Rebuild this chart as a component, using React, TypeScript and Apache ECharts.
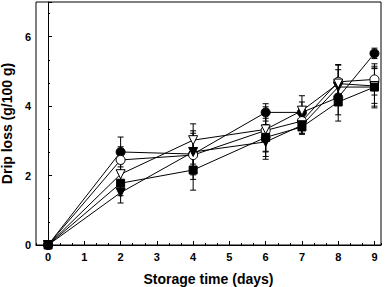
import React, { useEffect, useRef } from "react";
import * as echarts from "echarts";

const days = [0, 2, 4, 6, 7, 8, 9];
const xTickValues = [0, 1, 2, 3, 4, 5, 6, 7, 8, 9];
const yTickLabels = ["0", "2", "4", "6"];

const filledCircle = [0, 2.68, 2.62, 3.82, 3.82, 4.25, 5.52];
const openCircle = [0, 2.45, 2.59, 3.3, 3.57, 4.7, 4.77];
const filledTriangle = [0, 1.51, 2.68, 2.97, 3.45, 4.55, 4.55];
const openTriangle = [0, 2.04, 3.02, 3.33, 3.87, 4.65, 4.58];
const filledSquare = [0, 1.78, 2.16, 3.1, 3.4, 4.12, 4.55];

const filledCircleErr = [0, 0.43, 0.6, 0.25, 0.3, 0.5, 0.15];
const openCircleErr = [0, 0.38, 0.7, 0.6, 0.35, 0.48, 0.45];
const filledTriangleErr = [0, 0.3, 0.35, 0.5, 0.26, 0.5, 0.55];
const openTriangleErr = [0, 0.3, 0.47, 0.65, 0.43, 0.55, 0.5];
const filledSquareErr = [0, 0.36, 0.58, 0.55, 0.2, 0.55, 0.6];

const FONT = "Liberation Sans, Arial, sans-serif";
const X_MIN = -1 / 3;
const X_MAX = 9.18;
const Y_MIN = 0;
const Y_MAX = 7;

export default function App() {
  const ref = useRef<HTMLDivElement>(null);
  useEffect(() => {
    if (!ref.current) return;
    const chart = echarts.init(ref.current, undefined, { renderer: "svg" });

    const groups = [
      { name: "fc", vals: filledCircle, err: filledCircleErr, symbol: "circle", rot: 0, fill: "#000", size: 9 },
      { name: "oc", vals: openCircle, err: openCircleErr, symbol: "circle", rot: 0, fill: "#fff", size: 9 },
      { name: "ft", vals: filledTriangle, err: filledTriangleErr, symbol: "triangle", rot: 180, fill: "#000", size: 9 },
      { name: "ot", vals: openTriangle, err: openTriangleErr, symbol: "triangle", rot: 180, fill: "#fff", size: 9 },
      { name: "fs", vals: filledSquare, err: filledSquareErr, symbol: "rect", rot: 0, fill: "#000", size: 8 },
    ];

    const errSeries = groups.map((g) => ({
      type: "custom",
      name: g.name + "_err",
      xAxisIndex: 0,
      yAxisIndex: 0,
      z: 1,
      silent: true,
      data: days.map((d, i) => [d, g.vals[i] - g.err[i], g.vals[i] + g.err[i]]),
      encode: { x: 0, y: [1, 2] },
      renderItem: (params: any, api: any) => {
        const x = api.value(0);
        const lo = api.coord([x, api.value(1)]);
        const hi = api.coord([x, api.value(2)]);
        const c = 3;
        const style = { stroke: "#000", lineWidth: 1 };
        return {
          type: "group",
          children: [
            { type: "line", shape: { x1: lo[0], y1: lo[1], x2: hi[0], y2: hi[1] }, style },
            { type: "line", shape: { x1: lo[0] - c, y1: lo[1], x2: lo[0] + c, y2: lo[1] }, style },
            { type: "line", shape: { x1: hi[0] - c, y1: hi[1], x2: hi[0] + c, y2: hi[1] }, style },
          ],
        };
      },
    }));

    const lineSeries = groups.map((g) => ({
      type: "line",
      name: g.name,
      xAxisIndex: 0,
      yAxisIndex: 0,
      z: 3,
      data: days.map((d, i) => [d, g.vals[i]]),
      symbol: g.symbol,
      symbolSize: g.size,
      symbolRotate: g.rot,
      showAllSymbol: true,
      lineStyle: { color: "#000", width: 1 },
      itemStyle: { color: g.fill, borderColor: "#000", borderWidth: 1 },
    }));

    const labelStyle = { fontFamily: FONT, fontWeight: "bold", fontSize: 11, color: "#000" };
    const nameStyle = { fontFamily: FONT, fontWeight: "bold", fontSize: 14, color: "#000" };

    chart.setOption({
      animation: false,
      backgroundColor: "#fff",
      grid: {
        left: 36,
        right: 6,
        top: 2,
        bottom: 42,
        containLabel: false,
        outerBoundsMode: "none",
        show: true,
        borderColor: "#000",
        borderWidth: 1,
      },
      xAxis: [
        {
          type: "value",
          min: X_MIN,
          max: X_MAX,
          interval: 1 / 3,
          position: "bottom",
          name: "Storage time (days)",
          nameLocation: "middle",
          nameGap: 27,
          nameTextStyle: nameStyle,
          axisLine: { show: true, lineStyle: { color: "#000", width: 1 } },
          axisTick: { show: true, inside: true, length: 4, customValues: xTickValues, lineStyle: { color: "#000" } },
          splitLine: { show: false },
          axisLabel: { ...labelStyle, margin: 6, customValues: xTickValues, formatter: (v: number) => String(Math.round(v)) },
        },
        {
          type: "value",
          min: X_MIN,
          max: X_MAX,
          interval: 1 / 3,
          position: "bottom",
          axisLine: { show: false },
          axisTick: { show: true, inside: true, length: 2, lineStyle: { color: "#000" } },
          axisLabel: { show: false },
          splitLine: { show: false },
        },
      ],
      yAxis: [
        {
          type: "value",
          min: Y_MIN,
          max: Y_MAX,
          interval: 2,
          position: "left",
          name: "Drip loss (g/100 g)",
          nameLocation: "middle",
          nameGap: 20,
          nameTextStyle: nameStyle,
          axisLine: { show: true, lineStyle: { color: "#000", width: 1 } },
          axisTick: { show: true, inside: true, length: 4, lineStyle: { color: "#000" } },
          splitLine: { show: false },
          axisLabel: {
            ...labelStyle,
            margin: 5,
            formatter: (v: number) => {
              const r = Math.round(v);
              return Math.abs(v - r) < 1e-6 && yTickLabels.includes(String(r)) ? String(r) : "";
            },
          },
        },
        {
          type: "value",
          min: Y_MIN,
          max: Y_MAX,
          interval: 2 / 3,
          position: "left",
          axisLine: { show: false },
          axisTick: { show: true, inside: true, length: 2, lineStyle: { color: "#000" } },
          axisLabel: { show: false },
          splitLine: { show: false },
        },
      ],
      series: [...errSeries, ...lineSeries],
    });

    return () => chart.dispose();
  }, []);

  return (
    <div
      ref={ref}
      style={{ position: "fixed", left: 0, top: 0, width: 387, height: 287 }}
    />
  );
}
